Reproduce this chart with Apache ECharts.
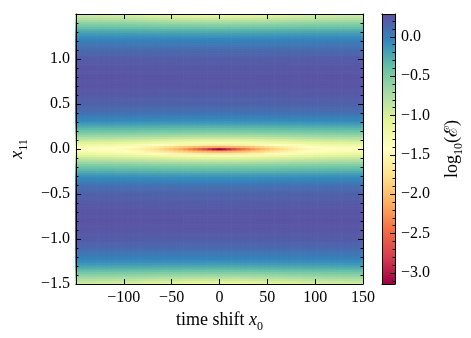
<!DOCTYPE html>
<html>
<head>
<meta charset="utf-8">
<script src="https://cdn.jsdelivr.net/npm/echarts@6/dist/echarts.min.js"></script>
<style>
html, body { margin: 0; padding: 0; background: #fff; }
#EchartsMap { width: 471px; height: 338px; }
</style>
</head>
<body>
<div id="EchartsMap"></div>
<script>
// time shift x0 sampled every 5 (0..150), mirrored for x0 < 0
var shiftStep = 5;
// log10(E) along x11 = 0 for x0 = 0, 5, ..., 150
var centerLog = [-3.15, -3.05, -2.9, -2.75, -2.6, -2.48, -2.36, -2.25, -2.15, -2.06,
  -1.98, -1.91, -1.84, -1.78, -1.72, -1.67, -1.62, -1.58, -1.54, -1.51,
  -1.48, -1.46, -1.44, -1.42, -1.41, -1.4, -1.39, -1.38, -1.37, -1.36, -1.35];

// x11 sampled every 0.025 (0..1.5), mirrored for x11 < 0
var x11Step = 0.025;
// log10(E) at the left/right edge, for |x11| = 0, 0.025, ..., 1.5
var edgeLog = [-1.35, -1.29, -1.17, -1.03, -0.89, -0.76, -0.64, -0.53, -0.43, -0.34,
  -0.26, -0.18, -0.11, -0.05, 0.0, 0.04, 0.08, 0.11, 0.14, 0.16,
  0.18, 0.19, 0.2, 0.21, 0.22, 0.23, 0.24, 0.25, 0.25, 0.26,
  0.26, 0.26, 0.26, 0.26, 0.25, 0.25, 0.24, 0.24, 0.23, 0.22,
  0.21, 0.2, 0.18, 0.16, 0.13, 0.1, 0.07, 0.04, 0.01, -0.03,
  -0.08, -0.14, -0.21, -0.29, -0.38, -0.48, -0.58, -0.68, -0.78, -0.88, -0.98];

// colour bar
var cbMin = -3.14;
var cbMax = 0.29;
var cbTicks = [-3.0, -2.5, -2.0, -1.5, -1.0, -0.5, 0.0];
var cbMinorTicks = [];
for (var m = -31; m <= 2; m++) cbMinorTicks.push(m / 10);

var spectral = ["#9e0142", "#d53e4f", "#f46d43", "#fdae61", "#fee08b", "#ffffbf",
  "#e6f598", "#abdda4", "#66c2a5", "#3288bd", "#5e4fa2"];

// build the grid of cells from the two read profiles
var cells = [];
var base = Math.pow(10, edgeLog[0]);
for (var i = -(edgeLog.length - 1); i <= edgeLog.length - 1; i++) {
  var er = Math.pow(10, edgeLog[Math.abs(i)]) - base;
  for (var j = -(centerLog.length - 1); j <= centerLog.length - 1; j++) {
    var v = er + Math.pow(10, centerLog[Math.abs(j)]);
    cells.push([j * shiftStep, i * x11Step, Math.log10(v)]);
  }
}

var FONT = "Liberation Serif";
var fmtMinus = function (s) { return String(s).replace("-", "\u2212"); };

function renderCell(params, api) {
  var p0 = api.coord([api.value(0) - shiftStep / 2, api.value(1) + x11Step / 2]);
  var p1 = api.coord([api.value(0) + shiftStep / 2, api.value(1) - x11Step / 2]);
  return {
    type: "rect",
    shape: { x: p0[0] - 0.3, y: p0[1] - 0.3, width: p1[0] - p0[0] + 0.6, height: p1[1] - p0[1] + 0.6 },
    style: { fill: api.visual("color") },
  };
}

function renderBar(params, api) {
  var p0 = api.coord([0, cbMax]);
  var p1 = api.coord([1, cbMin]);
  var stops = [];
  for (var k = 0; k < spectral.length; k++) {
    stops.push({ offset: k / (spectral.length - 1), color: spectral[spectral.length - 1 - k] });
  }
  return {
    type: "rect",
    shape: { x: p0[0], y: p0[1], width: p1[0] - p0[0], height: p1[1] - p0[1] },
    style: { fill: new echarts.graphic.LinearGradient(0, 0, 0, 1, stops) },
  };
}

var lineStyle = { color: "#000", width: 1 };
var frameLine = { onZero: false, lineStyle: lineStyle };
var labelStyle = { color: "#000", fontFamily: FONT, fontSize: 16 };

var option = {
  animation: false,
  grid: [
    { left: 73, right: 108, top: 14, bottom: 54 },
    { left: 382, width: 13, top: 14, bottom: 54 },
  ],
  visualMap: {
    show: false,
    type: "continuous",
    min: cbMin,
    max: cbMax,
    dimension: 2,
    seriesIndex: 0,
    inRange: { color: spectral },
  },
  xAxis: [
    {
      gridIndex: 0, type: "value", min: -150, max: 150, interval: 50, position: "bottom", z: 10,
      axisLine: frameLine,
      axisTick: { inside: true, length: 5, lineStyle: lineStyle },
      splitLine: { show: false },
      axisLabel: Object.assign({ margin: 6, showMinLabel: false, formatter: fmtMinus }, labelStyle),
      name: "{r|time shift }{i|x}{s|0}",
      nameLocation: "middle",
      nameGap: 21,
      nameTextStyle: {
        rich: {
          r: { fontFamily: FONT, fontSize: 18, color: "#000", lineHeight: 26 },
          i: { fontFamily: FONT, fontSize: 18, fontStyle: "italic", color: "#000", lineHeight: 26 },
          s: { fontFamily: FONT, fontSize: 12, color: "#000", lineHeight: 26, verticalAlign: "bottom" },
        },
      },
    },
    {
      gridIndex: 0, type: "value", min: -150, max: 150, interval: 50, position: "top", z: 10,
      axisLine: frameLine,
      axisTick: { inside: true, length: 5, lineStyle: lineStyle },
      splitLine: { show: false },
      axisLabel: { show: false },
    },
    {
      gridIndex: 1, type: "value", min: 0, max: 1, position: "bottom", z: 10,
      axisLine: frameLine, axisTick: { show: false },
      axisLabel: { show: false }, splitLine: { show: false },
    },
    {
      gridIndex: 1, type: "value", min: 0, max: 1, position: "top", z: 10,
      axisLine: frameLine, axisTick: { show: false },
      axisLabel: { show: false }, splitLine: { show: false },
    },
  ],
  yAxis: [
    {
      gridIndex: 0, type: "value", min: -1.5, max: 1.5, interval: 0.5, position: "left", z: 10,
      axisLine: frameLine,
      axisTick: { inside: true, length: 5, lineStyle: lineStyle },
      minorTick: { show: true, splitNumber: 5, length: 2.5, lineStyle: lineStyle },
      splitLine: { show: false },
      axisLabel: Object.assign({
        margin: 6, showMaxLabel: false,
        formatter: function (val) { return fmtMinus(val.toFixed(1)); },
      }, labelStyle),
      name: "{i|x}{s|11}",
      nameLocation: "middle",
      nameRotate: 90,
      nameGap: 40,
      nameTextStyle: {
        rich: {
          i: { fontFamily: FONT, fontSize: 18, fontStyle: "italic", color: "#000", lineHeight: 26 },
          s: { fontFamily: FONT, fontSize: 12, color: "#000", lineHeight: 26, verticalAlign: "bottom" },
        },
      },
    },
    {
      gridIndex: 0, type: "value", min: -1.5, max: 1.5, interval: 0.5, position: "right", z: 10,
      axisLine: frameLine,
      axisTick: { inside: true, length: 5, lineStyle: lineStyle },
      minorTick: { show: true, splitNumber: 5, length: 2.5, lineStyle: lineStyle },
      splitLine: { show: false },
      axisLabel: { show: false },
    },
    {
      gridIndex: 1, type: "value", min: cbMin, max: cbMax, position: "left", z: 10,
      axisLine: frameLine, axisTick: { show: false },
      axisLabel: { show: false }, splitLine: { show: false },
    },
    {
      gridIndex: 1, type: "value", min: cbMin, max: cbMax, position: "right", z: 10,
      axisLine: frameLine,
      axisTick: { inside: true, length: 5, lineStyle: lineStyle, customValues: cbTicks },
      splitLine: { show: false },
      axisLabel: Object.assign({
        margin: 6, customValues: cbTicks,
        formatter: function (val) { return fmtMinus(val.toFixed(1)); },
      }, labelStyle),
      name: "log{s|10}(\u2130)",
      nameLocation: "middle",
      nameRotate: 90,
      nameGap: 44,
      nameTextStyle: {
        fontFamily: FONT, fontSize: 18, color: "#000", lineHeight: 26,
        rich: {
          s: { fontFamily: FONT, fontSize: 12, color: "#000", lineHeight: 26, verticalAlign: "bottom" },
        },
      },
    },
    {
      gridIndex: 1, type: "value", min: cbMin, max: cbMax, position: "right", z: 11,
      axisLine: { show: false, onZero: false },
      axisTick: { inside: true, length: 2.5, lineStyle: lineStyle, customValues: cbMinorTicks },
      splitLine: { show: false },
      axisLabel: { show: false },
    },
  ],
  series: [
    {
      type: "custom",
      xAxisIndex: 0,
      yAxisIndex: 0,
      renderItem: renderCell,
      encode: { x: 0, y: 1 },
      data: cells,
      clip: true,
      progressive: 0,
      silent: true,
    },
    {
      type: "custom",
      xAxisIndex: 2,
      yAxisIndex: 2,
      renderItem: renderBar,
      data: [[0, cbMin]],
      clip: true,
      silent: true,
    },
  ],
};

var myChart = echarts.init(document.getElementById("EchartsMap"));
myChart.setOption(option);
</script>
</body>
</html>
